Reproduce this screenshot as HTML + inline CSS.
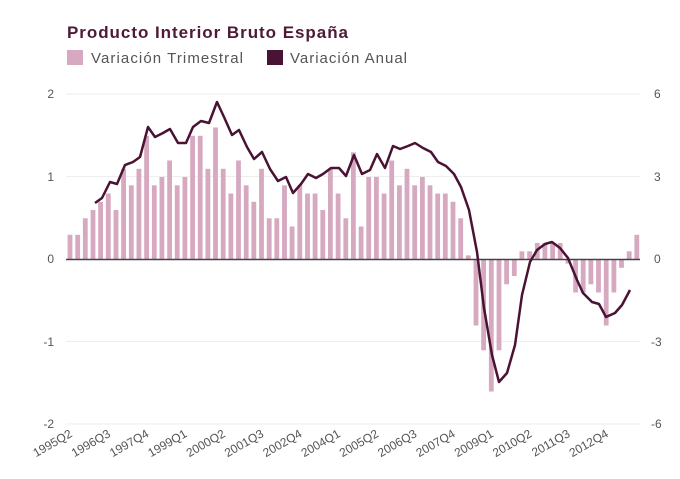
<!DOCTYPE html>
<html><head><meta charset="utf-8"><style>
body{margin:0;background:#fff;width:680px;height:479px;overflow:hidden}
svg{display:block;font-family:"Liberation Sans",sans-serif}
</style></head><body>
<svg id="c" width="680" height="479" xmlns="http://www.w3.org/2000/svg">
<text x="67" y="38" font-size="17" font-weight="bold" fill="#4e1a36" textLength="281">Producto Interior Bruto España</text>
<rect x="67" y="50" width="16" height="15" fill="#d6a9c0"/>
<text x="91" y="63" font-size="15" fill="#555" textLength="152">Variación Trimestral</text>
<rect x="267" y="50" width="16" height="15" fill="#4a1233"/>
<text x="290" y="63" font-size="15" fill="#555" textLength="117">Variación Anual</text>
<g stroke="#eeeeee" stroke-width="1">
<line x1="66" y1="94" x2="640" y2="94"/><line x1="66" y1="176.5" x2="640" y2="176.5"/>
<line x1="66" y1="341.5" x2="640" y2="341.5"/><line x1="66" y1="424" x2="640" y2="424"/>
</g>
<g font-size="12" fill="#555" text-anchor="end">
<text x="54" y="98">2</text><text x="54" y="181">1</text><text x="54" y="263">0</text><text x="54" y="346">-1</text><text x="54" y="428">-2</text>
</g>
<g font-size="12" fill="#555">
<text x="654" y="98">6</text><text x="654" y="181">3</text><text x="654" y="263">0</text><text x="651" y="346">-3</text><text x="651" y="428">-6</text>
</g>
<g id="bars" fill="#d6a9c0"></g>
<line x1="66" y1="259.5" x2="640" y2="259.5" stroke="#444" stroke-width="1.5"/>
<polyline id="ln" fill="none" stroke="#4a1233" stroke-width="2.5" stroke-linejoin="round"/>
<g id="lab" font-size="12" fill="#555" text-anchor="end"></g>
</svg>
<script>
var v=[0.3,0.3,0.5,0.6,0.7,0.8,0.6,1.1,0.9,1.1,1.5,0.9,1.0,1.2,0.9,1.0,1.5,1.5,1.1,1.6,1.1,0.8,1.2,0.9,0.7,1.1,0.5,0.5,0.9,0.4,0.9,0.8,0.8,0.6,1.1,0.8,0.5,
1.3,0.4,1.0,1.0,0.8,1.2,0.9,1.1,0.9,1.0,0.9,0.8,0.8,0.7,0.5,0.05,-0.8,-1.1,-1.6,-1.1,-0.3,-0.2,0.1,0.1,0.2,0.2,0.2,0.2,-0.05,-0.4,-0.4,-0.3,-0.4,-0.8,-0.4,-0.1,0.1,0.3];
var x0=70,st=7.66,z=259.5,u=82.5,s='';
for(var i=0;i<v.length;i++){var x=x0+i*st,h=v[i]*u;
s+='<rect x="'+(x-2.4).toFixed(1)+'" y="'+(h>0?z-h:z).toFixed(1)+'" width="4.8" height="'+Math.abs(h).toFixed(1)+'"/>';}
document.getElementById('bars').innerHTML=s;
var p=[[95,203],[102,198],[110,182],[117,184],[125,165],[133,162],[140,157],[148,127],[155,137],[163,133],[170,129],[178,143],[186,143],[193,127],[201,121],[209,123],[217,102],[224,117],[232,135],[239,130],[247,147],[254,159],[262,152],[270,169],[278,181],[286,177],[293,193],[301,184],[308,174],[316,178],[323,174],[331,168],[339,168],[346,176],[354,155],[362,174],[370,170],[377,154],[385,168],[393,146],[400,149],[408,146],[415,143],[423,148],[431,152],[438,162],[446,166],[454,174],[461,187],[469,210],[477,252],[484,308],[492,355],[499,382],[507,373],[515,345],[522,295],[530,262],[537,250],[545,244],[552,242],[560,248],[568,258],[577,280],[583,293],[592,302],[599,304],[606,317],[615,313],[622,305],[630,290]];
document.getElementById('ln').setAttribute('points',p.map(function(a){return a.join(',')}).join(' '));
var L=['1995Q2','1996Q3','1997Q4','1999Q1','2000Q2','2001Q3','2002Q4','2004Q1','2005Q2','2006Q3','2007Q4','2009Q1','2010Q2','2011Q3','2012Q4'],t='';
for(var k=0;k<L.length;k++){var x=x0+k*5*st+3;t+='<text transform="translate('+x.toFixed(1)+',436) rotate(-30)">'+L[k]+'</text>';}
document.getElementById('lab').innerHTML=t;
</script>
</body></html>
